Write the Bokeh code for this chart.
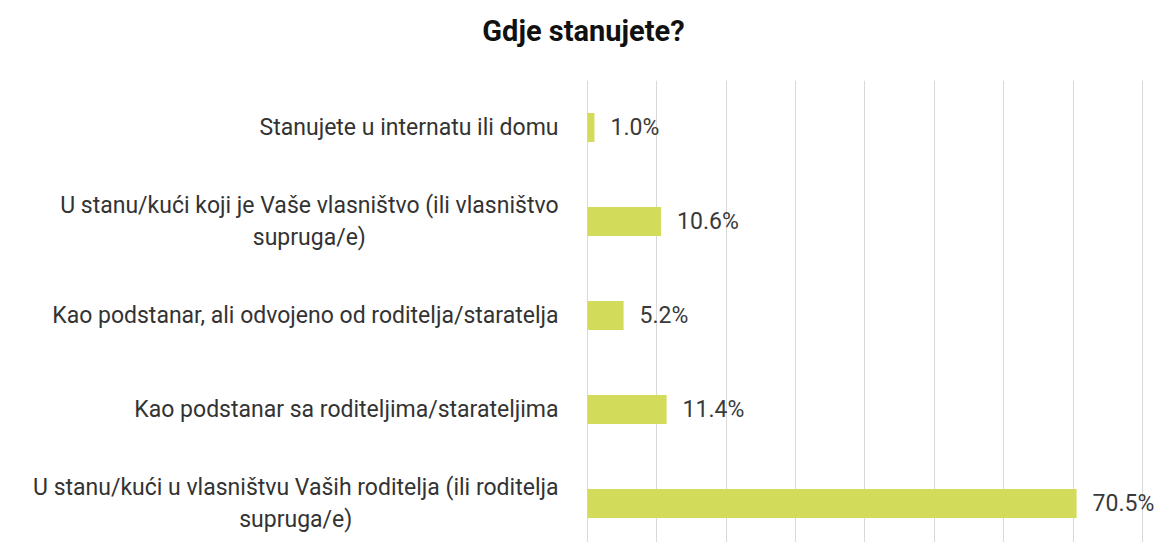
from bokeh.plotting import figure
from bokeh.layouts import column, row
from bokeh.models import Range1d, SingleIntervalTicker, ColumnDataSource
from bokeh.core.properties import value
from bokeh.embed import file_html
from bokeh.resources import INLINE

title_text = "Gdje stanujete?"
categories = [
    "Stanujete u internatu ili domu",
    "U stanu/kući koji je Vaše vlasništvo (ili vlasništvo\nsupruga/e)",
    "Kao podstanar, ali odvojeno od roditelja/staratelja",
    "Kao podstanar sa roditeljima/starateljima",
    "U stanu/kući u vlasništvu Vaših roditelja (ili roditelja\nsupruga/e)",
]
values = [1.0, 10.6, 5.2, 11.4, 70.5]
value_labels = ["1.0%", "10.6%", "5.2%", "11.4%", "70.5%"]

FONT = "Roboto"
BAR_COLOR = "#d2dc5a"
TEXT_COLOR = "#333333"

positions = list(range(len(categories)))
src = ColumnDataSource(dict(y=positions, cat=categories, v=values, lab=value_labels))

# shared vertical range: top band starts at frame top, last band cut at bottom
y_range = Range1d(start=4.415, end=-0.5)

# title strip
tfig = figure(width=1160, height=80, x_range=Range1d(0, 1), y_range=Range1d(0, 1),
              output_backend="svg", toolbar_location=None, min_border=0,
              x_axis_location=None, y_axis_location=None, outline_line_color=None)
tfig.xgrid.visible = False
tfig.ygrid.visible = False
tfig.text(x=[0.5], y=[0.5], text=[title_text], text_align="center", text_baseline="middle",
          x_offset=3, y_offset=-10, text_font=value(FONT), text_font_style="bold",
          text_font_size="29px", text_color="#111111")

# category labels
lfig = figure(width=583, height=462, x_range=Range1d(0, 1), y_range=y_range,
              output_backend="svg", toolbar_location=None, min_border=0,
              x_axis_location=None, y_axis_location=None, outline_line_color=None)
lfig.xgrid.visible = False
lfig.ygrid.visible = False
lfig.text(x=1, y="y", text="cat", source=src, x_offset=-25, text_align="center",
          anchor="center_right", text_baseline="middle", text_font=value(FONT),
          text_font_size="23px", text_color=TEXT_COLOR, text_line_height=1.22)

# bars
bfig = figure(width=577, height=462, x_range=Range1d(-0.58, 82.6), y_range=y_range,
              output_backend="svg", toolbar_location=None, min_border=0,
              x_axis_location=None, y_axis_location=None, outline_line_color=None)
bfig.xgrid.ticker = SingleIntervalTicker(interval=10)
bfig.xgrid.grid_line_color = "#d9d9d9"
bfig.xgrid.grid_line_width = 1
bfig.ygrid.visible = False
bfig.hbar(y="y", left=0, right="v", height=0.31, source=src, fill_color=BAR_COLOR,
          line_color=None)
bfig.text(x="v", y="y", text="lab", source=src, x_offset=16, text_align="left",
          text_baseline="middle", text_font=value(FONT), text_font_size="23px",
          text_color="#3a3a3a")

layout = column(tfig, row(lfig, bfig, spacing=0), spacing=0)
open("out.html", "w").write(file_html(layout, INLINE))
